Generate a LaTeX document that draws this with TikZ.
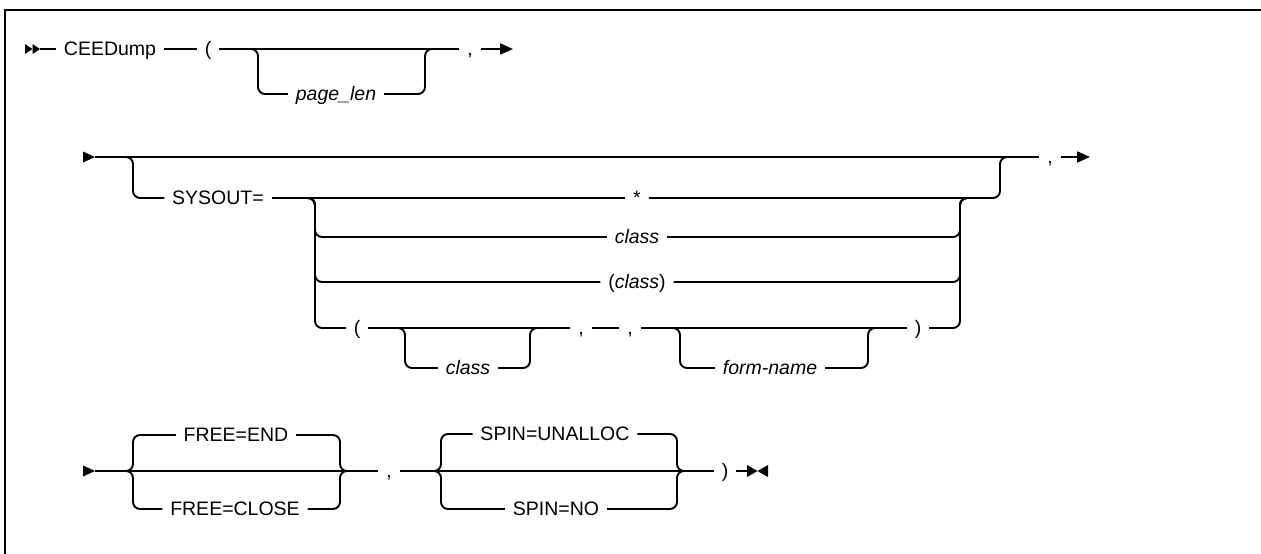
\documentclass[tikz,border=0pt]{standalone}
\usepackage{fontspec}
\setmainfont{Liberation Sans}
\usetikzlibrary{arrows.meta}
\begin{document}
\begin{tikzpicture}[x=1pt,y=-1pt,line width=1.9pt,
  lbl/.style={inner xsep=7pt,inner ysep=0pt,text height=13.5pt,text depth=0pt,font=\fontsize{19.5}{22}\selectfont},
  it/.style={lbl,font=\fontsize{19.5}{22}\selectfont\itshape},
  rnd/.style={rounded corners=7pt},
  cont/.style={-{Triangle[length=13pt,width=11pt]}}]
\useasboundingbox (0,0) rectangle (1261,554);
% frame
\draw[line width=2.6pt] (5,556) -- (5,10) -- (1263,10);

% ---------- row 1 ----------
\coordinate (s1) at (40,49);
\coordinate (e1) at (513,49);
\coordinate (b1l) at (250,49);
\coordinate (b1r) at (425,49);
\node[lbl] (ceed) at (110,49) {CEEDump};
\node[lbl] (lp1) at (208,49) {(};
\node[it] (pl) at (336,94) {page\_len};
\node[lbl] (c1) at (470,49) {,};
\fill (25,44) -- (32.5,49) -- (25,54) -- cycle;
\fill (32.5,44) -- (40,49) -- (32.5,54) -- cycle;
\draw (s1) -- (ceed);
\draw (ceed) -- (lp1);
\draw (lp1) -- (c1);
\draw[rnd] (b1l) -- ++(8,0) |- (pl.west);
\draw[rnd] (pl.east) -| (b1r) -- ++(8,0);
\draw[cont] (c1) -- (e1);

% ---------- row 2 ----------
\coordinate (s2) at (95,157);
\coordinate (e2) at (1090,157);
\coordinate (b2l) at (125,157);
\coordinate (b2r) at (1000,157);
\coordinate (k1) at (307,198);
\coordinate (k2) at (960,198);
\fill (83,151.5) -- (95,157) -- (83,162.5) -- cycle;
\node[lbl] (c2) at (1050,157) {,};
\node[lbl] (sys) at (218,198) {SYSOUT=};
\node[lbl] (star) at (637,198) {*};
\node[it] (cls) at (637,237) {class};
\node[lbl] (pcls) at (637,282) {(\textit{class})};
\node[lbl] (lp2) at (357,328) {(};
\node[it] (cls2) at (468,368) {class};
\node[lbl] (ca) at (581,328) {,};
\node[lbl] (cb) at (630,328) {,};
\node[it] (fn) at (770,368) {form-name};
\node[lbl] (rp2) at (918,328) {)};
\draw (s2) -- (c2);
\draw[cont] (c2) -- (e2);
\draw[rnd] (b2l) -- ++(8,0) |- (sys.west);
\draw (sys) -- (star);
\draw[rnd] (star.east) -| (b2r) -- ++(8,0);
\foreach \n in {cls,pcls,lp2} \draw[rnd] (k1) -- ++(8,0) |- (\n.west);
\foreach \n in {cls,pcls,rp2} \draw[rnd] (\n.east) -| (k2) -- ++(8,0);
\draw (lp2) -- (ca);
\draw (ca) -- (cb);
\draw (cb) -- (rp2);
\coordinate (b4l) at (397,328);
\coordinate (b4r) at (530,328);
\draw[rnd] (b4l) -- ++(8,0) |- (cls2.west);
\draw[rnd] (cls2.east) -| (b4r) -- ++(8,0);
\coordinate (b5l) at (672,328);
\coordinate (b5r) at (868,328);
\draw[rnd] (b5l) -- ++(8,0) |- (fn.west);
\draw[rnd] (fn.east) -| (b5r) -- ++(8,0);

% ---------- row 3 ----------
\coordinate (s3) at (95,471);
\coordinate (e3) at (747,471);
\coordinate (b6l) at (125,471);
\coordinate (b6r) at (340,471);
\coordinate (b7l) at (433,471);
\coordinate (b7r) at (677,471);
\fill (83,465.5) -- (95,471) -- (83,476.5) -- cycle;
\node[lbl] (fe) at (236,435) {FREE=END};
\node[lbl] (fc) at (235,509) {FREE=CLOSE};
\node[lbl] (c3) at (389,471) {,};
\node[lbl] (su) at (555,434) {SPIN=UNALLOC};
\node[lbl] (sn) at (556,509) {SPIN=NO};
\node[lbl] (rp3) at (725,471) {)};
\draw (s3) -- (c3);
\draw (c3) -- (rp3);
\foreach \n in {fe,fc} {
  \draw[rnd] (b6l) -- ++(8,0) |- (\n.west);
  \draw[rnd] (\n.east) -| (b6r) -- ++(8,0);
}
\foreach \n in {su,sn} {
  \draw[rnd] (b7l) -- ++(8,0) |- (\n.west);
  \draw[rnd] (\n.east) -| (b7r) -- ++(8,0);
}
\draw (rp3) -- (e3);
\fill (747,465) -- (757.5,471) -- (747,477) -- cycle;
\fill (768,465) -- (757.5,471) -- (768,477) -- cycle;
\end{tikzpicture}
\end{document}
